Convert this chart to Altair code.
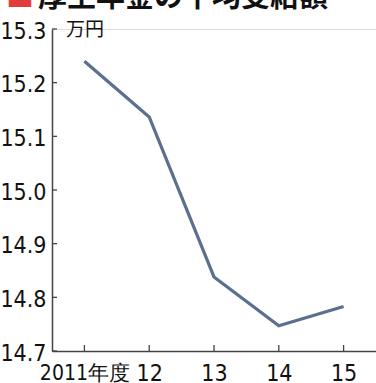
import altair as alt
import pandas as pd

years = [2011, 2012, 2013, 2014, 2015]
values = [15.24, 15.136, 14.838, 14.747, 14.783]
y_ticks = [14.7, 14.8, 14.9, 15.0, 15.1, 15.2, 15.3]
x_labels = ["2011年度", "12", "13", "14", "15"]
title_text = "厚生年金の平均受給額"
unit_text = "万円"

df = pd.DataFrame({"year": years, "value": values})
yt = pd.DataFrame({"v": y_ticks})
xt = pd.DataFrame({"year": years})

FONT = "Liberation Sans Narrow, Arial Narrow, DejaVu Sans Condensed, sans-serif"
AX = "#444444"

label_expr = (
    "datum.value == 2011 ? '" + x_labels[0] + "' : (datum.value == 2012 ? '" + x_labels[1]
    + "' : (datum.value == 2013 ? '" + x_labels[2] + "' : (datum.value == 2014 ? '"
    + x_labels[3] + "' : '" + x_labels[4] + "')))"
)

xscale = alt.Scale(domain=[2010.5, 2015.5], nice=False, zero=False)
yscale = alt.Scale(domain=[14.7, 15.3], nice=False, zero=False)

line = alt.Chart(df).mark_line(color="#5b6f8e", strokeWidth=3.2).encode(
    x=alt.X("year:Q", scale=xscale,
            axis=alt.Axis(values=years, labelExpr=label_expr, title=None, grid=False,
                          tickSize=0, domainColor=AX, domainWidth=1.5,
                          labelFont=FONT,
                          labelFontSize={"condition": {"test": "datum.value == 2011", "value": 21}, "value": 23},
                          labelColor="#111",
                          labelPadding=11, labelFlush=False, labelOverlap=False)),
    y=alt.Y("value:Q", scale=yscale,
            axis=alt.Axis(values=y_ticks, format=".1f", title=None, grid=False,
                          tickSize=0, domainColor=AX, domainWidth=1.5,
                          labelFont=FONT, labelFontSize=23, labelColor="#111",
                          labelPadding=6, labelOverlap=False, labelFlush=False,
                          labelOffset=2)),
)

ytick = alt.Chart(yt).mark_rule(color=AX, strokeWidth=1.3).encode(
    y=alt.Y("v:Q", scale=yscale), x=alt.value(0), x2=alt.value(5)
)
xtick = alt.Chart(xt).mark_rule(color=AX, strokeWidth=1.3).encode(
    x=alt.X("year:Q", scale=xscale), y=alt.value(322), y2=alt.value(316)
)

unit = alt.Chart(pd.DataFrame({"t": [unit_text]})).mark_text(
    font="Noto Sans CJK JP", fontSize=19, align="left", baseline="middle", color="#111"
).encode(text="t:N", x=alt.value(14), y=alt.value(1))

title_sq = alt.Chart(pd.DataFrame({"t": ["■"]})).mark_text(
    font="Noto Sans CJK JP", fontSize=28, align="left", baseline="alphabetic", color="#e23b3b"
).encode(text="t:N", x=alt.value(-46), y=alt.value(-22))
title = alt.Chart(pd.DataFrame({"t": [title_text]})).mark_text(
    font="Noto Sans CJK JP", fontSize=29, fontWeight="bold", align="left",
    baseline="alphabetic", color="#111"
).encode(text="t:N", x=alt.value(-14), y=alt.value(-22))

chart = alt.layer(line, ytick, xtick, unit, title_sq, title).properties(
    width=324, height=322,
    autosize=alt.AutoSizeParams(type="none"),
    padding={"left": 52, "top": 29, "right": 0, "bottom": 32},
).configure_view(stroke=None).configure(background="white")

chart.save("out.html", embed_options={"renderer": "svg", "actions": False})
